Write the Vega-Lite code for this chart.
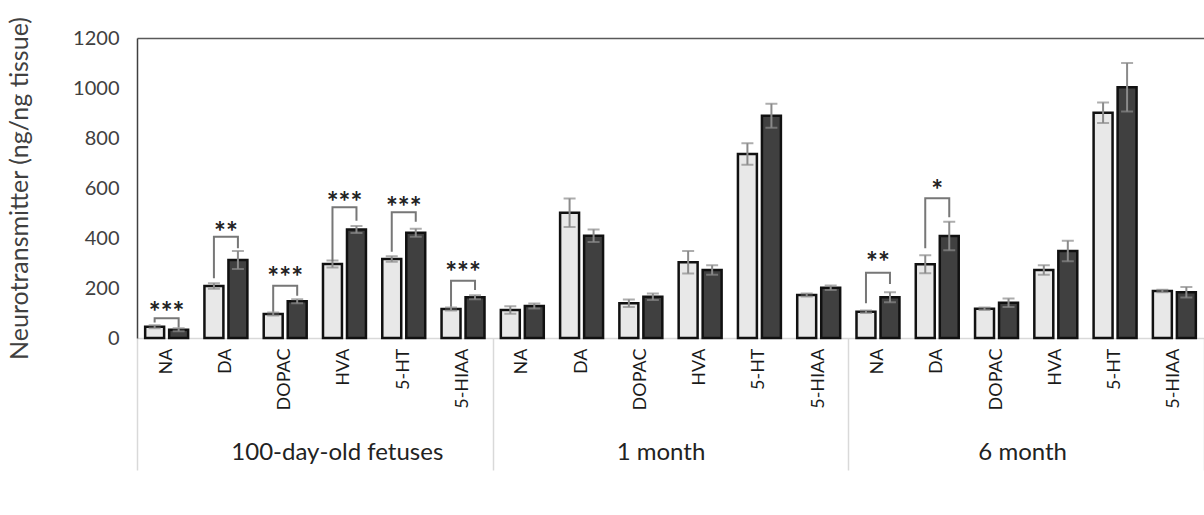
{
  "$schema": "https://vega.github.io/schema/vega-lite/v6.json",
  "width": 1067,
  "height": 300,
  "autosize": {"type": "none"},
  "padding": {"left": 137, "top": 38, "right": 0, "bottom": 177},
  "config": {
    "view": {"stroke": null},
    "font": "Lato",
    "axis": {"labelFont": "Lato", "titleFont": "Lato"}
  },
  "datasets": {
    "bars": [
      {"age": "100-day-old fetuses", "nt": "NA", "key": "100-day-old fetuses|NA", "series": "Control", "value": 45, "lo": 39, "hi": 51},
      {"age": "100-day-old fetuses", "nt": "NA", "key": "100-day-old fetuses|NA", "series": "Treated", "value": 33, "lo": 27, "hi": 39},
      {"age": "100-day-old fetuses", "nt": "DA", "key": "100-day-old fetuses|DA", "series": "Control", "value": 208, "lo": 197, "hi": 219},
      {"age": "100-day-old fetuses", "nt": "DA", "key": "100-day-old fetuses|DA", "series": "Treated", "value": 312, "lo": 276, "hi": 348},
      {"age": "100-day-old fetuses", "nt": "DOPAC", "key": "100-day-old fetuses|DOPAC", "series": "Control", "value": 96, "lo": 90, "hi": 102},
      {"age": "100-day-old fetuses", "nt": "DOPAC", "key": "100-day-old fetuses|DOPAC", "series": "Treated", "value": 147, "lo": 139, "hi": 155},
      {"age": "100-day-old fetuses", "nt": "HVA", "key": "100-day-old fetuses|HVA", "series": "Control", "value": 296, "lo": 282, "hi": 310},
      {"age": "100-day-old fetuses", "nt": "HVA", "key": "100-day-old fetuses|HVA", "series": "Treated", "value": 434, "lo": 420, "hi": 448},
      {"age": "100-day-old fetuses", "nt": "5-HT", "key": "100-day-old fetuses|5-HT", "series": "Control", "value": 316, "lo": 305, "hi": 327},
      {"age": "100-day-old fetuses", "nt": "5-HT", "key": "100-day-old fetuses|5-HT", "series": "Treated", "value": 421, "lo": 405, "hi": 437},
      {"age": "100-day-old fetuses", "nt": "5-HIAA", "key": "100-day-old fetuses|5-HIAA", "series": "Control", "value": 116, "lo": 110, "hi": 122},
      {"age": "100-day-old fetuses", "nt": "5-HIAA", "key": "100-day-old fetuses|5-HIAA", "series": "Treated", "value": 163, "lo": 155, "hi": 171},
      {"age": "1 month", "nt": "NA", "key": "1 month|NA", "series": "Control", "value": 112, "lo": 97, "hi": 127},
      {"age": "1 month", "nt": "NA", "key": "1 month|NA", "series": "Treated", "value": 128, "lo": 118, "hi": 138},
      {"age": "1 month", "nt": "DA", "key": "1 month|DA", "series": "Control", "value": 501, "lo": 444, "hi": 558},
      {"age": "1 month", "nt": "DA", "key": "1 month|DA", "series": "Treated", "value": 409, "lo": 384, "hi": 434},
      {"age": "1 month", "nt": "DOPAC", "key": "1 month|DOPAC", "series": "Control", "value": 139, "lo": 124, "hi": 154},
      {"age": "1 month", "nt": "DOPAC", "key": "1 month|DOPAC", "series": "Treated", "value": 165, "lo": 152, "hi": 178},
      {"age": "1 month", "nt": "HVA", "key": "1 month|HVA", "series": "Control", "value": 303, "lo": 258, "hi": 348},
      {"age": "1 month", "nt": "HVA", "key": "1 month|HVA", "series": "Treated", "value": 272, "lo": 253, "hi": 291},
      {"age": "1 month", "nt": "5-HT", "key": "1 month|5-HT", "series": "Control", "value": 736, "lo": 693, "hi": 779},
      {"age": "1 month", "nt": "5-HT", "key": "1 month|5-HT", "series": "Treated", "value": 889, "lo": 841, "hi": 937},
      {"age": "1 month", "nt": "5-HIAA", "key": "1 month|5-HIAA", "series": "Control", "value": 172, "lo": 166, "hi": 178},
      {"age": "1 month", "nt": "5-HIAA", "key": "1 month|5-HIAA", "series": "Treated", "value": 201, "lo": 192, "hi": 210},
      {"age": "6 month", "nt": "NA", "key": "6 month|NA", "series": "Control", "value": 105, "lo": 100, "hi": 110},
      {"age": "6 month", "nt": "NA", "key": "6 month|NA", "series": "Treated", "value": 163, "lo": 143, "hi": 183},
      {"age": "6 month", "nt": "DA", "key": "6 month|DA", "series": "Control", "value": 295, "lo": 259, "hi": 331},
      {"age": "6 month", "nt": "DA", "key": "6 month|DA", "series": "Treated", "value": 408, "lo": 351, "hi": 465},
      {"age": "6 month", "nt": "DOPAC", "key": "6 month|DOPAC", "series": "Control", "value": 117, "lo": 112, "hi": 122},
      {"age": "6 month", "nt": "DOPAC", "key": "6 month|DOPAC", "series": "Treated", "value": 141, "lo": 124, "hi": 158},
      {"age": "6 month", "nt": "HVA", "key": "6 month|HVA", "series": "Control", "value": 272, "lo": 253, "hi": 291},
      {"age": "6 month", "nt": "HVA", "key": "6 month|HVA", "series": "Treated", "value": 348, "lo": 307, "hi": 389},
      {"age": "6 month", "nt": "5-HT", "key": "6 month|5-HT", "series": "Control", "value": 901, "lo": 860, "hi": 942},
      {"age": "6 month", "nt": "5-HT", "key": "6 month|5-HT", "series": "Treated", "value": 1003, "lo": 906, "hi": 1100},
      {"age": "6 month", "nt": "5-HIAA", "key": "6 month|5-HIAA", "series": "Control", "value": 188, "lo": 183, "hi": 193},
      {"age": "6 month", "nt": "5-HIAA", "key": "6 month|5-HIAA", "series": "Treated", "value": 183, "lo": 162, "hi": 204}
    ],
    "brackets": [
      {"bid": 1, "key": "100-day-old fetuses|NA", "series": "Control", "y": 62, "ord": 1},
      {"bid": 1, "key": "100-day-old fetuses|NA", "series": "Control", "y": 79, "ord": 2},
      {"bid": 1, "key": "100-day-old fetuses|NA", "series": "Treated", "y": 79, "ord": 3},
      {"bid": 1, "key": "100-day-old fetuses|NA", "series": "Treated", "y": 42, "ord": 4},
      {"bid": 2, "key": "100-day-old fetuses|DA", "series": "Control", "y": 239, "ord": 1},
      {"bid": 2, "key": "100-day-old fetuses|DA", "series": "Control", "y": 405, "ord": 2},
      {"bid": 2, "key": "100-day-old fetuses|DA", "series": "Treated", "y": 405, "ord": 3},
      {"bid": 2, "key": "100-day-old fetuses|DA", "series": "Treated", "y": 359, "ord": 4},
      {"bid": 3, "key": "100-day-old fetuses|DOPAC", "series": "Control", "y": 105, "ord": 1},
      {"bid": 3, "key": "100-day-old fetuses|DOPAC", "series": "Control", "y": 209, "ord": 2},
      {"bid": 3, "key": "100-day-old fetuses|DOPAC", "series": "Treated", "y": 209, "ord": 3},
      {"bid": 3, "key": "100-day-old fetuses|DOPAC", "series": "Treated", "y": 169, "ord": 4},
      {"bid": 4, "key": "100-day-old fetuses|HVA", "series": "Control", "y": 308, "ord": 1},
      {"bid": 4, "key": "100-day-old fetuses|HVA", "series": "Control", "y": 523, "ord": 2},
      {"bid": 4, "key": "100-day-old fetuses|HVA", "series": "Treated", "y": 523, "ord": 3},
      {"bid": 4, "key": "100-day-old fetuses|HVA", "series": "Treated", "y": 469, "ord": 4},
      {"bid": 5, "key": "100-day-old fetuses|5-HT", "series": "Control", "y": 345, "ord": 1},
      {"bid": 5, "key": "100-day-old fetuses|5-HT", "series": "Control", "y": 503, "ord": 2},
      {"bid": 5, "key": "100-day-old fetuses|5-HT", "series": "Treated", "y": 503, "ord": 3},
      {"bid": 5, "key": "100-day-old fetuses|5-HT", "series": "Treated", "y": 465, "ord": 4},
      {"bid": 6, "key": "100-day-old fetuses|5-HIAA", "series": "Control", "y": 125, "ord": 1},
      {"bid": 6, "key": "100-day-old fetuses|5-HIAA", "series": "Control", "y": 229, "ord": 2},
      {"bid": 6, "key": "100-day-old fetuses|5-HIAA", "series": "Treated", "y": 229, "ord": 3},
      {"bid": 6, "key": "100-day-old fetuses|5-HIAA", "series": "Treated", "y": 192, "ord": 4},
      {"bid": 7, "key": "6 month|NA", "series": "Control", "y": 139, "ord": 1},
      {"bid": 7, "key": "6 month|NA", "series": "Control", "y": 261, "ord": 2},
      {"bid": 7, "key": "6 month|NA", "series": "Treated", "y": 261, "ord": 3},
      {"bid": 7, "key": "6 month|NA", "series": "Treated", "y": 216, "ord": 4},
      {"bid": 8, "key": "6 month|DA", "series": "Control", "y": 359, "ord": 1},
      {"bid": 8, "key": "6 month|DA", "series": "Control", "y": 559, "ord": 2},
      {"bid": 8, "key": "6 month|DA", "series": "Treated", "y": 559, "ord": 3},
      {"bid": 8, "key": "6 month|DA", "series": "Treated", "y": 483, "ord": 4}
    ],
    "stars": [
      {"key": "100-day-old fetuses|NA", "label": "***", "y": 97},
      {"key": "100-day-old fetuses|DA", "label": "**", "y": 417},
      {"key": "100-day-old fetuses|DOPAC", "label": "***", "y": 235},
      {"key": "100-day-old fetuses|HVA", "label": "***", "y": 535},
      {"key": "100-day-old fetuses|5-HT", "label": "***", "y": 515},
      {"key": "100-day-old fetuses|5-HIAA", "label": "***", "y": 255},
      {"key": "6 month|NA", "label": "**", "y": 297},
      {"key": "6 month|DA", "label": "*", "y": 584}
    ],
    "groups": [
      {"age": "100-day-old fetuses"},
      {"age": "1 month"},
      {"age": "6 month"}
    ]
  },
  "layer": [
    {
      "encoding": {
        "x": {
          "field": "key",
          "type": "nominal",
          "scale": {
            "domain": [
              "100-day-old fetuses|NA", "100-day-old fetuses|DA", "100-day-old fetuses|DOPAC", "100-day-old fetuses|HVA", "100-day-old fetuses|5-HT", "100-day-old fetuses|5-HIAA",
              "1 month|NA", "1 month|DA", "1 month|DOPAC", "1 month|HVA", "1 month|5-HT", "1 month|5-HIAA",
              "6 month|NA", "6 month|DA", "6 month|DOPAC", "6 month|HVA", "6 month|5-HT", "6 month|5-HIAA"
            ],
            "paddingInner": 0,
            "paddingOuter": 0
          },
          "axis": {
            "orient": "bottom",
            "title": null,
            "labelExpr": "split(datum.label, '|')[1]",
            "labelAngle": -90,
            "labelFontSize": 18,
            "labelColor": "#1a1a1a",
            "labelPadding": 10,
            "ticks": false,
            "domainColor": "#d9d9d9",
            "domainWidth": 1.5,
            "grid": false
          }
        }
      },
      "layer": [
        {
          "data": {"name": "bars"},
          "mark": {"type": "bar", "stroke": "#111111", "strokeWidth": 2.5},
          "encoding": {
            "xOffset": {"field": "series", "type": "nominal", "scale": {"domain": ["Control", "Treated"], "paddingInner": 0.21, "paddingOuter": 0.34}},
            "y": {
              "field": "value",
              "type": "quantitative",
              "scale": {"domain": [0, 1200], "nice": false},
              "axis": {
                "title": "Neurotransmitter (ng/ng tissue)",
                "titleFontSize": 25,
                "titleFontWeight": "normal",
                "titleColor": "#404040",
                "titlePadding": 40,
                "values": [0, 200, 400, 600, 800, 1000, 1200],
                "format": "d",
                "labelFontSize": 20,
                "labelColor": "#404040",
                "labelPadding": 18,
                "ticks": false,
                "domainColor": "#404040",
                "domainWidth": 1.5,
                "grid": true,
                "gridColor": {"condition": {"test": "datum.value === 1200", "value": "#595959"}, "value": "transparent"},
                "gridWidth": 1.5
              }
            },
            "color": {"field": "series", "type": "nominal", "scale": {"domain": ["Control", "Treated"], "range": ["#e8e8e8", "#404040"]}, "legend": null}
          }
        },
        {
          "data": {"name": "bars"},
          "mark": {"type": "rule", "color": "#8a8a8a", "strokeWidth": 2},
          "encoding": {
            "xOffset": {"field": "series", "type": "nominal"},
            "y": {"field": "lo", "type": "quantitative"},
            "y2": {"field": "hi"}
          }
        },
        {
          "data": {"name": "bars"},
          "mark": {"type": "tick", "color": "#8a8a8a", "size": 12, "thickness": 2},
          "encoding": {
            "xOffset": {"field": "series", "type": "nominal"},
            "y": {"field": "lo", "type": "quantitative"}
          }
        },
        {
          "data": {"name": "bars"},
          "mark": {"type": "tick", "color": "#8a8a8a", "size": 12, "thickness": 2},
          "encoding": {
            "xOffset": {"field": "series", "type": "nominal"},
            "y": {"field": "hi", "type": "quantitative"}
          }
        },
        {
          "data": {"name": "brackets"},
          "mark": {"type": "line", "color": "#777777", "strokeWidth": 2},
          "encoding": {
            "xOffset": {"field": "series", "type": "nominal"},
            "y": {"field": "y", "type": "quantitative"},
            "detail": {"field": "bid", "type": "nominal"},
            "order": {"field": "ord", "type": "quantitative"}
          }
        },
        {
          "data": {"name": "stars"},
          "mark": {"type": "text", "fontSize": 28, "fontWeight": "bold", "color": "#222222", "baseline": "middle", "font": "Lato"},
          "encoding": {
            "y": {"field": "y", "type": "quantitative"},
            "text": {"field": "label"}
          }
        }
      ]
    },
    {
      "data": {"name": "groups"},
      "mark": {"type": "text", "opacity": 0},
      "encoding": {
        "x": {
          "field": "age",
          "type": "nominal",
          "scale": {"domain": ["100-day-old fetuses", "1 month", "6 month"], "paddingInner": 0, "paddingOuter": 0},
          "axis": {
            "orient": "bottom",
            "title": null,
            "labelAngle": 0,
            "labelFontSize": 24,
            "labelLimit": 0,
            "labelColor": "#222222",
            "labelOffset": {"condition": [{"test": "datum.value === '100-day-old fetuses'", "value": 22}, {"test": "datum.value === '1 month'", "value": -10}], "value": -4},
            "tickBand": "extent",
            "ticks": true,
            "tickSize": 132,
            "tickColor": "#d9d9d9",
            "tickWidth": 1.5,
            "labelPadding": -30,
            "domain": false,
            "grid": false
          }
        },
        "text": {"field": "age"}
      }
    }
  ],
  "resolve": {"scale": {"x": "independent"}, "axis": {"x": "independent"}}
}
